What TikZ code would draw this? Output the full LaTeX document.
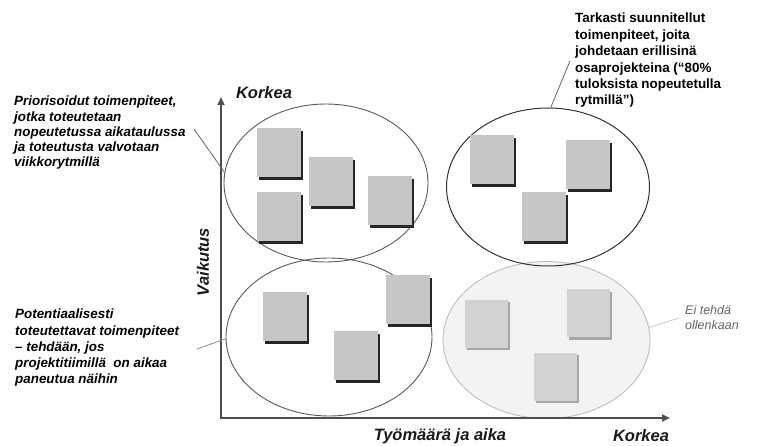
\documentclass[tikz,border=0pt]{standalone}
\usepackage{fontspec}
\setmainfont{Liberation Sans}
\usetikzlibrary{shapes.geometric,arrows.meta,shadows}
\definecolor{axisgray}{HTML}{4F4F4F}
\definecolor{notegray}{HTML}{C6C6C6}
\definecolor{notelight}{HTML}{D2D2D2}
\definecolor{ringgray}{HTML}{5A5A5A}
\definecolor{paleft}{HTML}{F3F3F3}
\begin{document}
\begin{tikzpicture}[x=1pt,y=-1pt,
  axisline/.style={draw=axisgray,line width=2.8pt,-{Triangle[length=8pt,width=7pt]}},
  ring/.style={ellipse,draw=ringgray,line width=0.9pt,inner sep=0pt},
  note/.style={rectangle,inner sep=0pt,minimum width=44pt,minimum height=49pt,
    fill=notegray,drop shadow={shadow xshift=2.2pt,shadow yshift=-2.6pt,fill=black!85,opacity=1}},
  notepale/.style={rectangle,inner sep=0pt,minimum width=43pt,minimum height=48pt,
    fill=notelight,drop shadow={shadow xshift=2pt,shadow yshift=-2.2pt,fill=black!35,opacity=1}},
  axlabel/.style={inner sep=0pt,font=\fontsize{16.5}{18}\selectfont\bfseries\itshape,text=black!90},
  note text/.style={inner sep=0pt,anchor=north west,align=left,text=black},
  leader/.style={draw=black!60,line width=0.8pt},
]
\useasboundingbox (0,0) rectangle (764,446);
% ellipses
\node[ring,draw=black!28,fill=paleft,line width=0.8pt,minimum width=207pt,minimum height=157pt] (br) at (546.5,340) {};
\node[ring,minimum width=204pt,minimum height=158pt] (tl) at (326,183) {};
\node[ring,draw=black!80,line width=1pt,minimum width=203pt,minimum height=158pt] (tr) at (548,187) {};
\node[ring,minimum width=206pt,minimum height=158pt] (bl) at (329,337) {};
% notes top-left
\node[note] (n1) at (278.5,153) {};
\node[note] (n2) at (330.5,182) {};
\node[note] (n3) at (389.5,201) {};
\node[note] (n4) at (279,217) {};
% notes top-right
\node[note] (n5) at (492,159.5) {};
\node[note] (n6) at (587.5,164.5) {};
\node[note] (n7) at (543.5,216.5) {};
% notes bottom-left
\node[note] (n8) at (284.5,317) {};
\node[note] (n9) at (355.5,355.5) {};
\node[note] (n10) at (407.5,300) {};
% notes bottom-right
\node[notepale] (n11) at (486.5,324) {};
\node[notepale] (n12) at (588,313.5) {};
\node[notepale] (n13) at (555.5,377) {};
% axes
\coordinate (origin) at (221,418);
\coordinate (ytip) at (221,97);
\coordinate (xtip) at (670,418);
\draw[axisline] (origin) -- (ytip);
\draw[axisline] ([xshift=-1.4pt]origin) -- (xtip);
% axis labels
\node[axlabel] (ktop) at (264,93) {Korkea};
\node[axlabel,rotate=90] (vaik) at (203,262) {Vaikutus};
\node[axlabel] (tyo) at (440,436) {Työmäärä ja aika};
\node[axlabel] (kright) at (641,436) {Korkea};
% texts
\node[note text,font=\fontsize{13.4}{15.2}\selectfont\bfseries\itshape] (ttl) at (14,96)
  {Priorisoidut toimenpiteet,\\jotka toteutetaan\\nopeutetussa aikataulussa\\ja toteutusta valvotaan\\viikkorytmillä};
\node[note text,font=\fontsize{13.4}{16.4}\selectfont\bfseries] (ttr) at (575,13)
  {Tarkasti suunnitellut\\toimenpiteet, joita\\johdetaan erillisinä\\osaprojekteina (“80\%\\tuloksista nopeutetulla\\rytmillä”)};
\node[note text,font=\fontsize{13.4}{16.2}\selectfont\bfseries\itshape] (tbl) at (15,309)
  {Potentiaalisesti\\toteutettavat toimenpiteet\\– tehdään, jos\\projektitiimillä\ \ on aikaa\\paneutua näihin};
\node[note text,font=\fontsize{12.5}{15}\selectfont\itshape,text=black!60] (tbr) at (685,305)
  {Ei tehdä\\ollenkaan};
% leaders
\coordinate (ltl) at (194,129);
\coordinate (ltr) at (570,61);
\coordinate (lbl) at (197,349);
\coordinate (lbr) at (679,318);
\draw[leader] (ltl) -- (tl.174);
\draw[leader] (ltr) -- (tr.88);
\draw[leader,draw=black!45] (lbl) -- (bl.181);
\draw[leader,draw=black!22] (br.7) -- (lbr);
\end{tikzpicture}
\end{document}
